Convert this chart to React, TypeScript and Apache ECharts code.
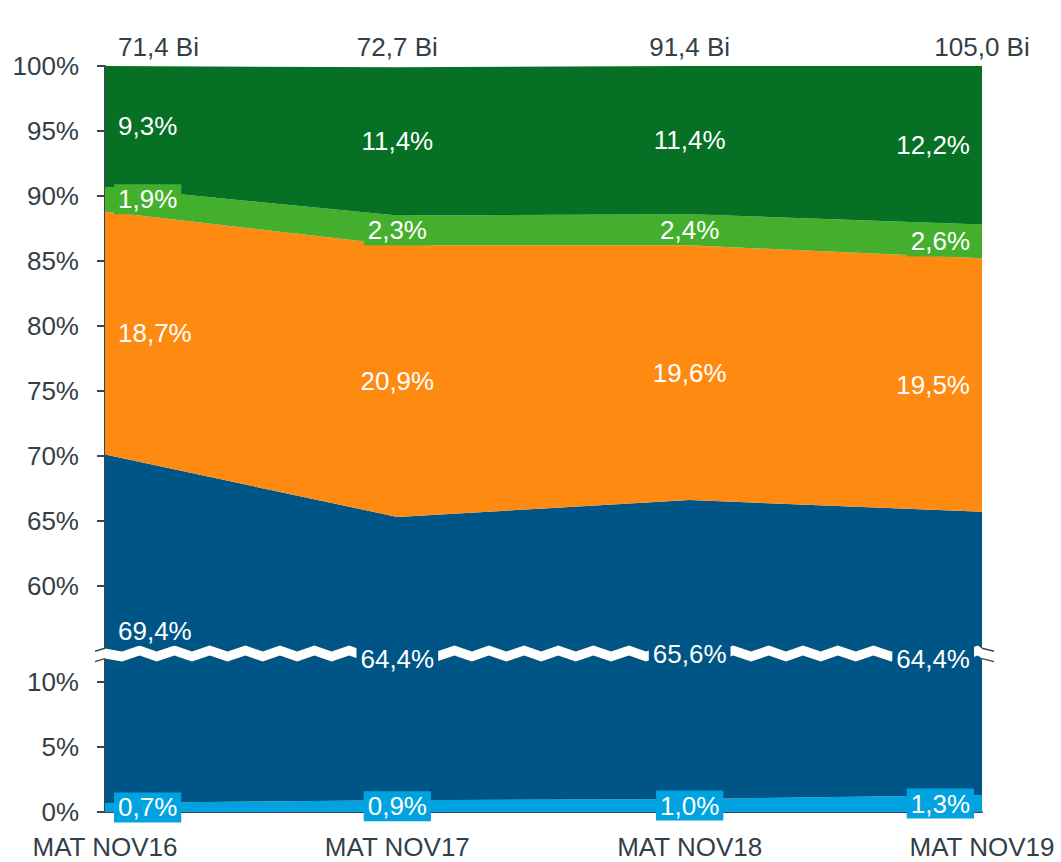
import React, { useEffect, useRef } from "react";
import * as echarts from "echarts";

const categories = ["MAT NOV16", "MAT NOV17", "MAT NOV18", "MAT NOV19"];
const totals = ["71,4 Bi", "72,7 Bi", "91,4 Bi", "105,0 Bi"];
const lightBlue = [0.7, 0.9, 1.0, 1.3];
const darkBlue = [69.4, 64.4, 65.6, 64.4];
const orange = [18.7, 20.9, 19.6, 19.5];
const lightGreen = [1.9, 2.3, 2.4, 2.6];
const darkGreen = [9.3, 11.4, 11.4, 12.2];
const yTicks = [0, 5, 10, 60, 65, 70, 75, 80, 85, 90, 95, 100];
const breakStart = 11.8;
const breakEnd = 55.2;

const FONT = "'Liberation Sans', Arial, sans-serif";
const TEXT = "#333f48";
const AXIS = "#3a4650";

const bands = [
  { name: "Light blue", data: lightBlue, color: "#00a3e0", box: true },
  { name: "Dark blue", data: darkBlue, color: "#005587", box: true },
  { name: "Orange", data: orange, color: "#ff8a12", box: false },
  { name: "Light green", data: lightGreen, color: "#44af2c", box: true },
  { name: "Dark green", data: darkGreen, color: "#067024", box: false },
];

const fmt = (v: number) => v.toFixed(1).replace(".", ",") + "%";

export default function App() {
  const ref = useRef<HTMLDivElement>(null);
  useEffect(() => {
    document.body.style.margin = "0";
    const chart = echarts.init(ref.current!, null, { renderer: "svg" });
    const n = categories.length;
    const cum = new Array(n).fill(0);
    const areaSeries: any[] = [];
    const labelSeries: any[] = [];
    bands.forEach((b, bi) => {
      areaSeries.push({
        name: b.name,
        type: "line",
        stack: "total",
        data: b.data,
        symbol: "none",
        lineStyle: { width: 0 },
        areaStyle: { color: b.color, opacity: 1 },
        itemStyle: { color: b.color },
        z: 2,
      });
      const baseLabel = {
        show: true,
        position: [0, 0],
        align: "center",
        verticalAlign: "middle",
        color: "#ffffff",
        fontSize: 26,
        fontFamily: FONT,
        backgroundColor: b.box ? b.color : "transparent",
        padding: [2, 4],
        formatter: (p: any) => fmt(b.data[p.dataIndex]),
      };
      const pts = b.data.map((v, i) => {
        let mid = cum[i] + v / 2;
        if (mid > breakStart && mid < breakEnd) mid = breakStart;
        const label: any = { ...baseLabel };
        if (i === 0) {
          label.align = "left";
          label.offset = [9, bi === 1 ? -28 : 0];
        } else if (i === n - 1) {
          label.align = "right";
          label.offset = [-8, 0];
        } else if (bi === 1 && i === 2) {
          label.offset = [0, -5];
        }
        return { value: [categories[i], mid], label };
      });
      b.data.forEach((v, i) => (cum[i] += v));
      labelSeries.push({
        type: "scatter",
        data: pts,
        symbolSize: 0,
        silent: true,
        z: 300,
        zlevel: 1,
        itemStyle: { opacity: 1 },
        label: baseLabel,
      });
    });
    const topLabel = {
      show: true,
      position: "top",
      distance: 6,
      formatter: (p: any) => totals[p.dataIndex],
      color: TEXT,
      fontSize: 26,
      fontFamily: FONT,
    };
    labelSeries.push({
      type: "scatter",
      data: totals.map((t, i) => {
        const label: any = { ...topLabel };
        if (i === 0) {
          label.align = "left";
          label.offset = [13, 0];
        }
        return { value: [categories[i], 100], label };
      }),
      symbolSize: 0,
      silent: true,
      itemStyle: { opacity: 1 },
      label: topLabel,
    });

    chart.setOption({
      animation: false,
      grid: { left: 105, right: 79, top: 66, bottom: 50 },
      xAxis: {
        type: "category",
        data: categories,
        boundaryGap: false,
        axisLine: { lineStyle: { color: AXIS, width: 2 } },
        axisTick: { show: false },
        axisLabel: { color: TEXT, fontSize: 26, fontFamily: FONT, margin: 22 },
        splitLine: { show: false },
      },
      yAxis: {
        type: "value",
        min: 0,
        max: 100,
        interval: 5,
        breaks: [{ start: breakStart, end: breakEnd, gap: 0.8 }],
        breakArea: {
          show: true,
          itemStyle: { color: "#ffffff", borderColor: AXIS, borderWidth: 1, opacity: 1 },
          zigzagAmplitude: 3,
          zigzagMinSpan: 17,
          zigzagMaxSpan: 18,
          expandOnClick: false,
        },
        axisLine: { show: true, lineStyle: { color: AXIS, width: 2 } },
        axisTick: {
          show: true,
          length: 8,
          customValues: yTicks,
          lineStyle: { color: AXIS, width: 2 },
        },
        axisLabel: {
          color: TEXT,
          fontSize: 26,
          fontFamily: FONT,
          margin: 26,
          hideOverlap: false,
          customValues: yTicks,
          formatter: (v: number) => v + "%",
        },
        splitLine: { show: false },
      },
      series: [...areaSeries, ...labelSeries],
    });

    // break stubs extending past the plot edges, positioned from the axis scale
    const yTop = chart.convertToPixel({ yAxisIndex: 0 }, breakEnd) as number;
    const yBot = chart.convertToPixel({ yAxisIndex: 0 }, breakStart) as number;
    const xL = chart.convertToPixel({ xAxisIndex: 0 }, categories[0]) as number;
    const xR = chart.convertToPixel({ xAxisIndex: 0 }, categories[n - 1]) as number;
    const stub = (x0: number, x1: number, dir: number) => [
      {
        type: "polygon",
        shape: {
          points: [
            [x0, yTop + 3 * dir],
            [x1, yTop],
            [x1, yBot],
            [x0, yBot + 3 * dir],
          ],
        },
        style: { fill: "#ffffff" },
        z: 100,
      },
      {
        type: "polyline",
        shape: { points: [[x0, yTop + 3 * dir], [x1, yTop]] },
        style: { stroke: AXIS, lineWidth: 1.5 },
        z: 101,
      },
      {
        type: "polyline",
        shape: { points: [[x0, yBot + 3 * dir], [x1, yBot]] },
        style: { stroke: AXIS, lineWidth: 1.5 },
        z: 101,
      },
    ];
    if (isFinite(yTop) && isFinite(yBot)) {
      chart.setOption({
        graphic: [...stub(xL - 10, xL, 1), ...stub(xR + 12, xR, 1)],
      });
    }
    return () => chart.dispose();
  }, []);
  return <div ref={ref} style={{ width: 1061, height: 862 }} />;
}
